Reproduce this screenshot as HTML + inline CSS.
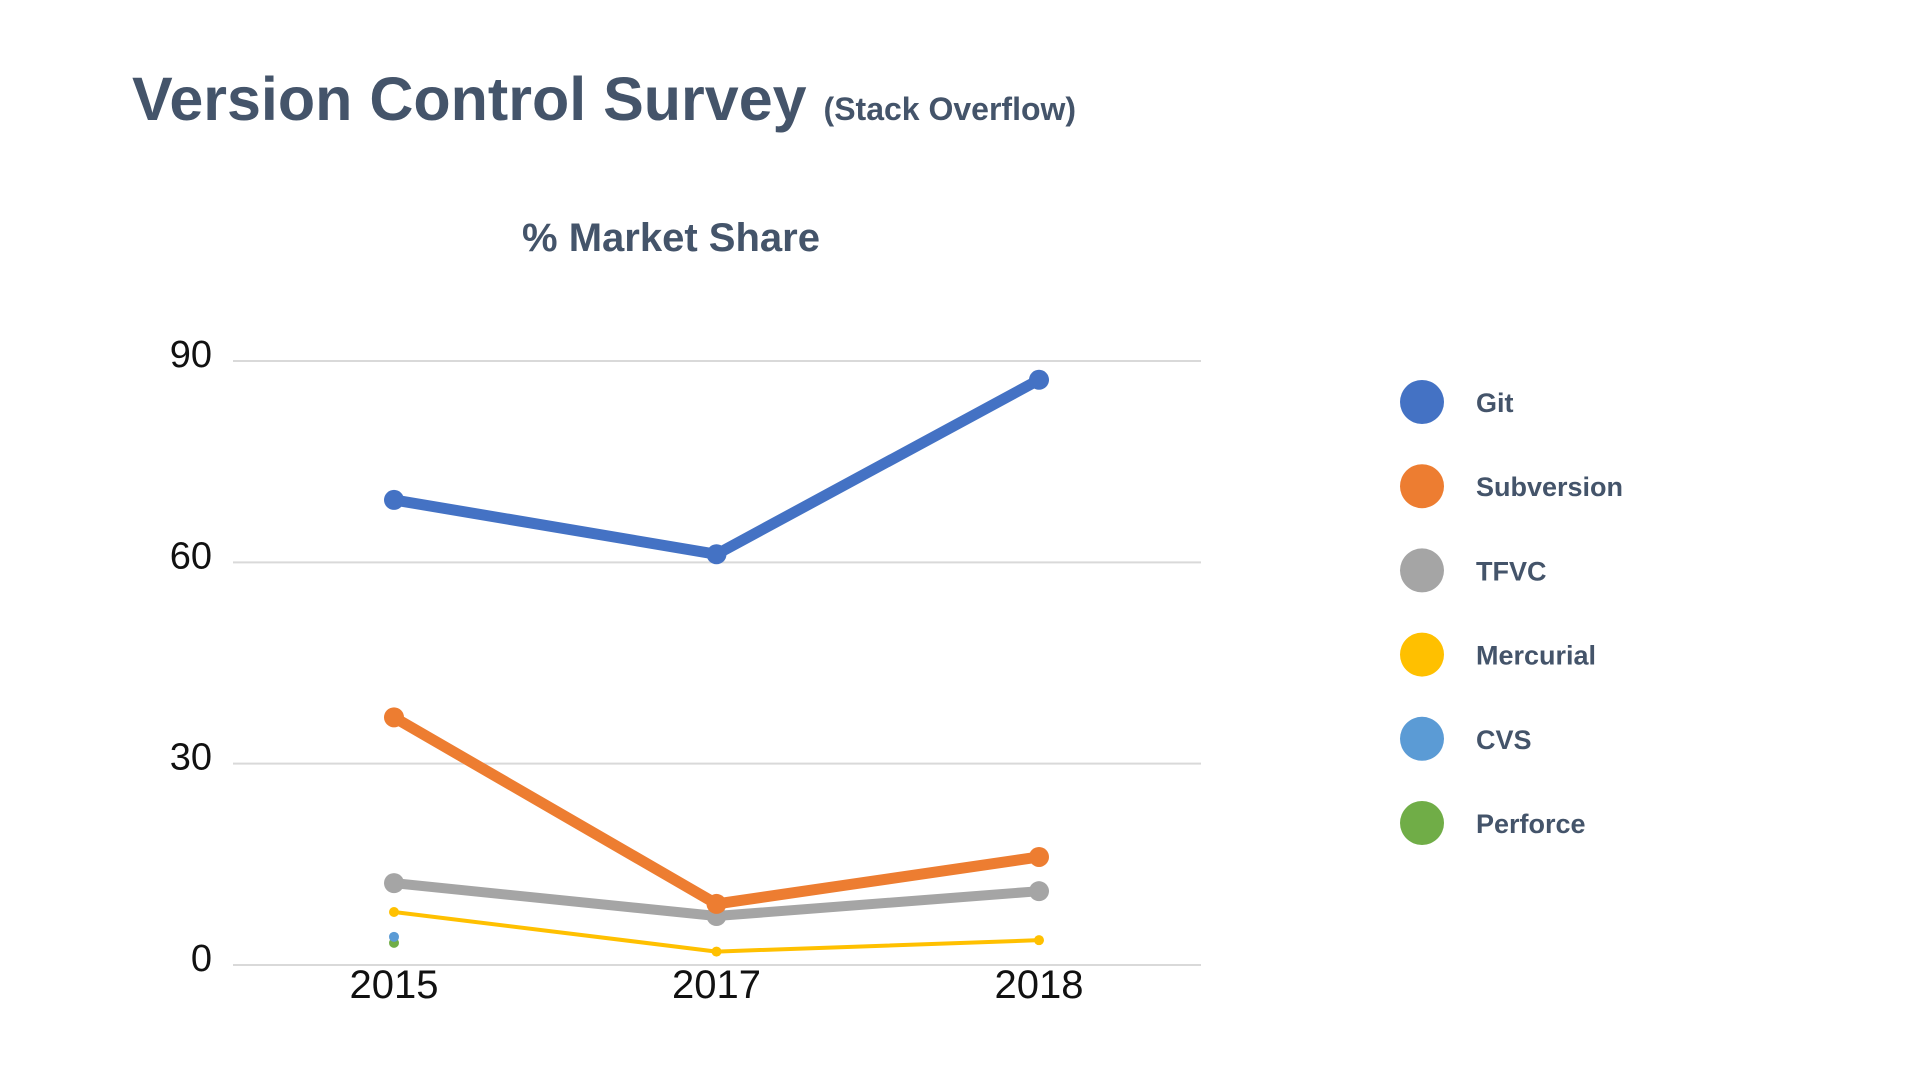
<!DOCTYPE html>
<html><head><meta charset="utf-8"><style>
body{margin:0;width:1920px;height:1080px;background:#fff;overflow:hidden;font-family:"Liberation Sans",sans-serif}
svg{display:block}
</style></head><body>
<svg id="chart" width="1920" height="1080">
<text x="132" y="120" font-size="61" font-weight="bold" fill="#44546a">Version Control Survey <tspan font-size="32">(Stack Overflow)</tspan></text>
<text x="671" y="251" font-size="40" font-weight="bold" fill="#44546a" text-anchor="middle">% Market Share</text>
<g id="grid"></g><g id="series"></g><g id="legend"></g>
</svg>
<script>
const categories=["2015","2017","2018"];
const yTicks=[0,30,60,90];
const seriesNames=["Git","Subversion","TFVC","Mercurial","CVS","Perforce"];
const seriesColors=["#4472c4","#ed7d31","#a5a5a5","#ffc000","#5b9bd5","#70ad47"];
const git=[69.3,61.2,87.2];
const subversion=[36.9,9.1,16.1];
const tfvc=[12.2,7.3,11];
const mercurial=[7.9,2,3.7];
const cvs=[4.2,null,null];
const perforce=[3.3,null,null];
const seriesValues=[git,subversion,tfvc,mercurial,cvs,perforce];
const widths=[11,11,10,4,4,4];
const radii=[10,10,10,5,5,5];
const NS="http://www.w3.org/2000/svg";
const x=i=>394+i*322.5;
const y=v=>965-v*(965-361)/90;
function mk(t,a,p){const e=document.createElementNS(NS,t);for(const k in a)e.setAttribute(k,a[k]);p.appendChild(e);return e;}
const grid=document.getElementById('grid');
yTicks.forEach(t=>{
 const l=mk('line',{x1:233,x2:1201,y1:y(t),y2:y(t),stroke:'#d9d9d9','stroke-width':2},grid);
 
 
 const tx=mk('text',{x:212,y:y(t)+6,'font-size':38,'text-anchor':'end',fill:'#111'},grid);
 tx.textContent=t;
 
 
});
categories.forEach((c,i)=>{
 const tx=mk('text',{x:x(i),y:998,'font-size':40,'text-anchor':'middle',fill:'#111'},grid);
 tx.textContent=c;
 
 
});
const sg=document.getElementById('series');
for(let s=seriesValues.length-1;s>=0;s--){
 const vals=seriesValues[s];
 const pts=[];vals.forEach((v,i)=>{if(v!=null)pts.push([x(i),y(v)]);});
 if(pts.length>1){
  const p=mk('polyline',{points:pts.map(q=>q.join(',')).join(' '),fill:'none',stroke:seriesColors[s],'stroke-width':widths[s],'stroke-linejoin':'round'},sg);
  
  
 }
 pts.forEach(q=>{
  const c=mk('circle',{cx:q[0],cy:q[1],r:radii[s],fill:seriesColors[s]},sg);
  
  
 });
}
const lg=document.getElementById('legend');
seriesNames.forEach((n,i)=>{
 const cy=402+i*84.2;
 const c=mk('circle',{cx:1422,cy:cy,r:22,fill:seriesColors[i]},lg);
 
 
 const t=mk('text',{x:1476,y:cy+10,'font-size':27,'font-weight':'bold',fill:'#44546a'},lg);
 t.textContent=n;
 
 
});
</script>
</body></html>
